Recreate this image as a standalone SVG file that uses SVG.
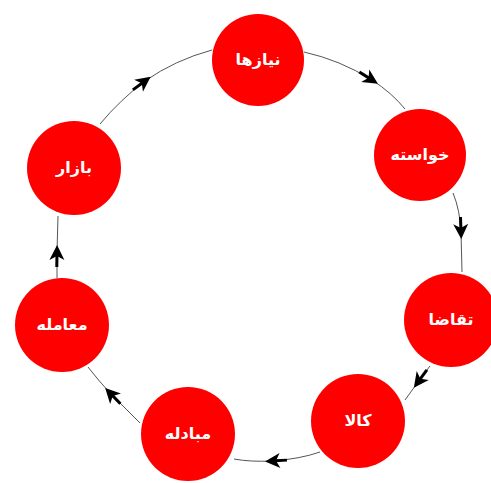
<svg xmlns="http://www.w3.org/2000/svg" width="491" height="483" viewBox="0 0 491 483">
<style>
.node circle{fill:#ff0000;}
.node text{fill:#ffffff;font-family:"DejaVu Sans",sans-serif;font-size:16px;font-weight:bold;text-anchor:middle;direction:rtl;}
.conn path{fill:none;stroke:#555;stroke-width:1;marker-mid:url(#arr);}
</style>
<defs>
<marker id="arr" markerUnits="userSpaceOnUse" viewBox="-18 -9 28 18" markerWidth="28" markerHeight="18" refX="0" refY="0" orient="auto">
<path d="M7,0 L-8,-7.5 L-4,0 L-8,7.5 Z" fill="#000"/>
<rect x="-15" y="-1.5" width="12" height="3" fill="#000"/>
</marker>
</defs>
<rect width="491" height="483" fill="#fff"/>
<g id="connectors" class="conn">
<path d="M304,52 Q340,60 372,80 Q392,93 405,109"/>
<path d="M453,193 Q460,210 461,232 L462,272"/>
<path d="M430,366 L418,382 L405,400"/>
<path d="M320,452 Q300,459 272,461 Q250,462 234,459"/>
<path d="M140,423 Q125,408 110,393 Q98,380 88,367"/>
<path d="M57,278 L57,252 L58,216"/>
<path d="M100,124 Q120,100 145,81 Q175,60 212,50"/>
</g>
<g id="n1" class="node"><circle cx="258" cy="60" r="46"/><text x="258" y="65">نیازها</text></g>
<g id="n2" class="node"><circle cx="420" cy="155" r="46"/><text x="420" y="160">خواسته</text></g>
<g id="n3" class="node"><circle cx="451" cy="320" r="47"/><text x="451" y="325">تقاضا</text></g>
<g id="n4" class="node"><circle cx="358" cy="421" r="47"/><text x="358" y="426">کالا</text></g>
<g id="n5" class="node"><circle cx="188" cy="434" r="47"/><text x="188" y="439">مبادله</text></g>
<g id="n6" class="node"><circle cx="62" cy="325" r="47"/><text x="62" y="330">معامله</text></g>
<g id="n7" class="node"><circle cx="74" cy="168" r="47"/><text x="74" y="173">بازار</text></g>
</svg>
